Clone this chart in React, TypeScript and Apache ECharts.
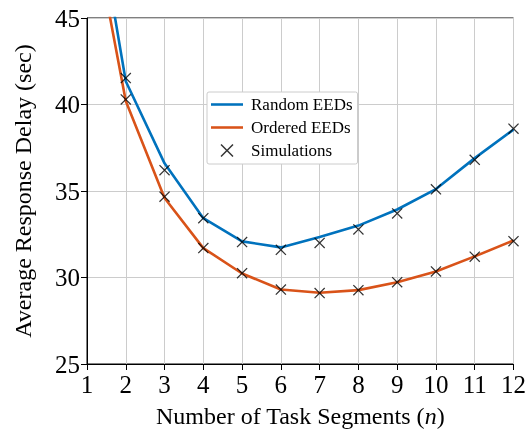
import React, { useEffect, useRef } from "react";
import * as echarts from "echarts";

const nValues = [1, 2, 3, 4, 5, 6, 7, 8, 9, 10, 11, 12];
const randomEEDs = [54.6, 41.34, 36.6, 33.43, 32.09, 31.74, 32.34, 33.0, 33.93, 35.11, 36.9, 38.55];
const orderedEEDs = [52.1, 40.2, 34.6, 31.7, 30.23, 29.31, 29.12, 29.27, 29.73, 30.35, 31.22, 32.14];
const simN = [2, 3, 4, 5, 6, 7, 8, 9, 10, 11, 12, 2, 3, 4, 5, 6, 7, 8, 9, 10, 11, 12];
const simValues = [
  41.53, 36.2, 33.43, 32.05, 31.6, 32.0, 32.78, 33.7, 35.1, 36.8, 38.6,
  40.29, 34.67, 31.7, 30.25, 29.3, 29.1, 29.27, 29.73, 30.35, 31.2, 32.1,
];
const yTicks = { min: 25, max: 45, interval: 5 };
const xTicks = { min: 1, max: 12, interval: 1 };

const X_PATH =
  "path://M8,0 L50,42 L92,0 L100,8 L58,50 L100,92 L92,100 L50,58 L8,100 L0,92 L42,50 L0,8 Z";
const LINE_ICON = "path://M0,0 L40,0 L40,3.2 L0,3.2 Z";
const FONT = "Liberation Serif";

export default function App() {
  const ref = useRef<HTMLDivElement>(null);
  useEffect(() => {
    if (!ref.current) return;
    const chart = echarts.init(ref.current, undefined, { renderer: "svg" });
    chart.setOption({
      animation: false,
      grid: {
        left: 87,
        right: 15,
        top: 18,
        bottom: 68,
        show: true,
        borderColor: "#000",
        borderWidth: 1,
        backgroundColor: "transparent",
      },
      legend: {
        orient: "vertical",
        left: 207,
        top: 92,
        padding: [4, 5, 5, 4],
        itemWidth: 32,
        itemHeight: 13,
        itemGap: 6,
        symbolKeepAspect: true,
        backgroundColor: "#fff",
        borderColor: "#cccccc",
        borderWidth: 1,
        borderRadius: 2,
        textStyle: { fontFamily: FONT, fontSize: 17, color: "#000", padding: [0, 0, 0, 3] },
        data: [
          { name: "Random EEDs", icon: LINE_ICON },
          { name: "Ordered EEDs", icon: LINE_ICON },
          { name: "Simulations", icon: X_PATH },
        ],
      },
      xAxis: {
        type: "value",
        min: xTicks.min,
        max: xTicks.max,
        interval: xTicks.interval,
        name: "Number of Task Segments ({i|n})",
        nameLocation: "middle",
        nameGap: 40,
        nameTextStyle: {
          fontFamily: FONT,
          fontSize: 24,
          color: "#000",
          rich: { i: { fontStyle: "italic", fontFamily: FONT, fontSize: 24, color: "#000" } },
        },
        axisLine: { show: true, lineStyle: { color: "#000", width: 1 } },
        axisTick: { show: true, length: 6, lineStyle: { color: "#000" } },
        axisLabel: { fontFamily: FONT, fontSize: 25, color: "#000", margin: 8 },
        splitLine: { show: true, lineStyle: { color: "#cccccc", width: 1 } },
      },
      yAxis: {
        type: "value",
        min: yTicks.min,
        max: yTicks.max,
        interval: yTicks.interval,
        name: "Average Response Delay (sec)",
        nameLocation: "middle",
        nameGap: 52,
        nameTextStyle: { fontFamily: FONT, fontSize: 24, color: "#000" },
        axisLine: { show: true, lineStyle: { color: "#000", width: 1 } },
        axisTick: { show: true, length: 6, lineStyle: { color: "#000" } },
        axisLabel: { fontFamily: FONT, fontSize: 25, color: "#000", margin: 7 },
        splitLine: { show: true, lineStyle: { color: "#cccccc", width: 1 } },
      },
      series: [
        {
          name: "Random EEDs",
          type: "line",
          data: nValues.map((n, i) => [n, randomEEDs[i]]),
          symbol: "none",
          clip: true,
          lineStyle: { color: "#0072BD", width: 2.6 },
          itemStyle: { color: "#0072BD" },
          z: 2,
        },
        {
          name: "Ordered EEDs",
          type: "line",
          data: nValues.map((n, i) => [n, orderedEEDs[i]]),
          symbol: "none",
          clip: true,
          lineStyle: { color: "#D95319", width: 2.6 },
          itemStyle: { color: "#D95319" },
          z: 2,
        },
        {
          name: "Simulations",
          type: "scatter",
          data: simN.map((n, i) => [n, simValues[i]]),
          symbol: X_PATH,
          symbolSize: 11,
          symbolKeepAspect: true,
          itemStyle: { color: "#000" },
          z: 3,
        },
      ],
    });
    return () => chart.dispose();
  }, []);
  return (
    <div
      ref={ref}
      style={{ position: "fixed", left: 0, top: 0, width: 529, height: 433 }}
    />
  );
}
